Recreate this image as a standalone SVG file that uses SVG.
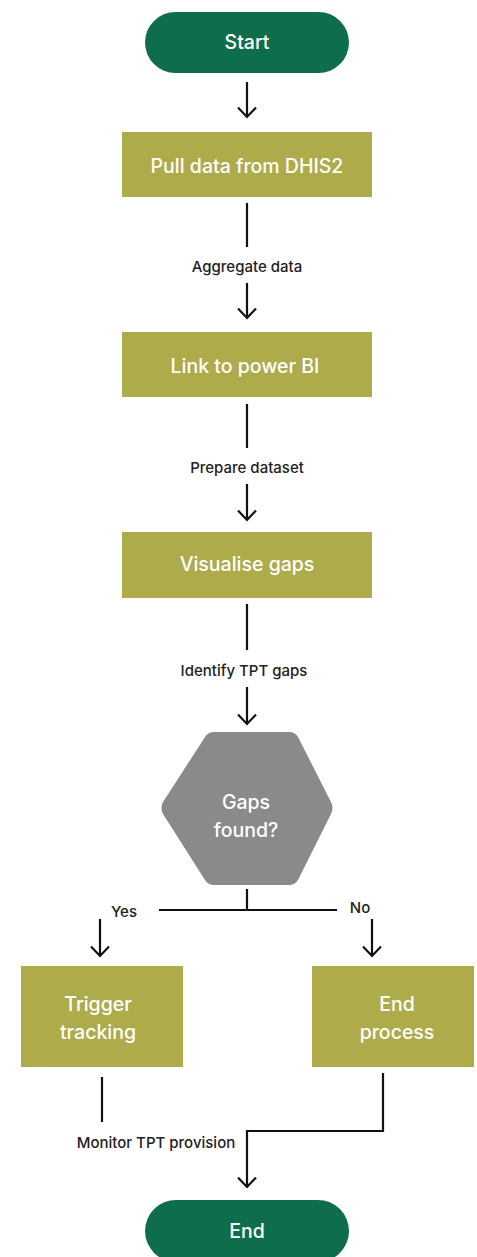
<svg xmlns="http://www.w3.org/2000/svg" width="477" height="1257" viewBox="0 0 477 1257">
<style>
.pill{fill:#0e6d4b}
.box{fill:#aeab4a}
.hex{fill:#8a8a8a}
.nt{font-family:Inter,"Open Sans",sans-serif;font-size:19.5px;font-weight:500;fill:#ffffff;text-anchor:middle;dominant-baseline:central}
.lbl{font-family:Inter,"Open Sans",sans-serif;font-size:15px;font-weight:500;fill:#222222;text-anchor:middle;dominant-baseline:central}
.ln{stroke:#111111;stroke-width:2.2;fill:none}
.ar{stroke:#111111;stroke-width:2.2;fill:none;marker-end:url(#ah)}
</style>
<defs>
<marker id="ah" viewBox="0 0 12 22" refX="10.5" refY="11" markerWidth="12" markerHeight="22" markerUnits="userSpaceOnUse" orient="auto">
<polyline points="1,2 10.5,11 1,20" fill="none" stroke="#111111" stroke-width="2.2"/>
</marker>
</defs>
<rect width="477" height="1257" fill="#ffffff"/>
<g id="connectors">
<line class="ar" x1="247" y1="82" x2="247" y2="117"/>
<line class="ln" x1="247" y1="203" x2="247" y2="247"/>
<text class="lbl" x="247" y="266">Aggregate data</text>
<line class="ar" x1="247" y1="283" x2="247" y2="318"/>
<line class="ln" x1="247" y1="404" x2="247" y2="448"/>
<text class="lbl" x="247" y="467">Prepare dataset</text>
<line class="ar" x1="247" y1="484" x2="247" y2="520"/>
<line class="ln" x1="247" y1="604" x2="247" y2="650"/>
<text class="lbl" x="244" y="670">Identify TPT gaps</text>
<line class="ar" x1="247" y1="687" x2="247" y2="724"/>
<line class="ln" x1="247" y1="889" x2="247" y2="910"/>
<line class="ln" x1="159" y1="910" x2="337" y2="910"/>
<text class="lbl" x="124" y="911">Yes</text>
<text class="lbl" x="360" y="907">No</text>
<line class="ar" x1="100" y1="919" x2="100" y2="956"/>
<line class="ar" x1="372" y1="919" x2="372" y2="956"/>
<line class="ln" x1="102" y1="1077" x2="102" y2="1122"/>
<text class="lbl" x="156" y="1142">Monitor TPT provision</text>
<polyline class="ar" points="383,1073 383,1131 247,1131 247,1187"/>
</g>
<g id="start">
<rect class="pill" x="145" y="12" width="204" height="61" rx="30.5"/>
<text class="nt" x="247" y="42">Start</text>
</g>
<g id="pull">
<rect class="box" x="122" y="132" width="250" height="65"/>
<text class="nt" x="247" y="166">Pull data from DHIS2</text>
</g>
<g id="link">
<rect class="box" x="122" y="332" width="250" height="65"/>
<text class="nt" x="245" y="366">Link to power BI</text>
</g>
<g id="visualise">
<rect class="box" x="122" y="532" width="250" height="66"/>
<text class="nt" x="247" y="564">Visualise gaps</text>
</g>
<g id="decision">
<path class="hex" d="M214,732 L289,732 Q295,732 298,737 L331,802 Q334,808 331,814 L298,880 Q295,885 289,885 L214,885 Q208,885 205,880 L163,814 Q160,808 163,802 L205,737 Q208,732 214,732 Z"/>
<text class="nt" x="246" y="802">Gaps</text>
<text class="nt" x="246" y="830">found?</text>
</g>
<g id="trigger">
<rect class="box" x="21" y="966" width="162" height="101"/>
<text class="nt" x="98" y="1004">Trigger</text>
<text class="nt" x="98" y="1032">tracking</text>
</g>
<g id="endprocess">
<rect class="box" x="312" y="966" width="162" height="101"/>
<text class="nt" x="397" y="1004">End</text>
<text class="nt" x="397" y="1032">process</text>
</g>
<g id="end">
<rect class="pill" x="145" y="1200" width="204" height="62" rx="31"/>
<text class="nt" x="247" y="1231">End</text>
</g>
</svg>
